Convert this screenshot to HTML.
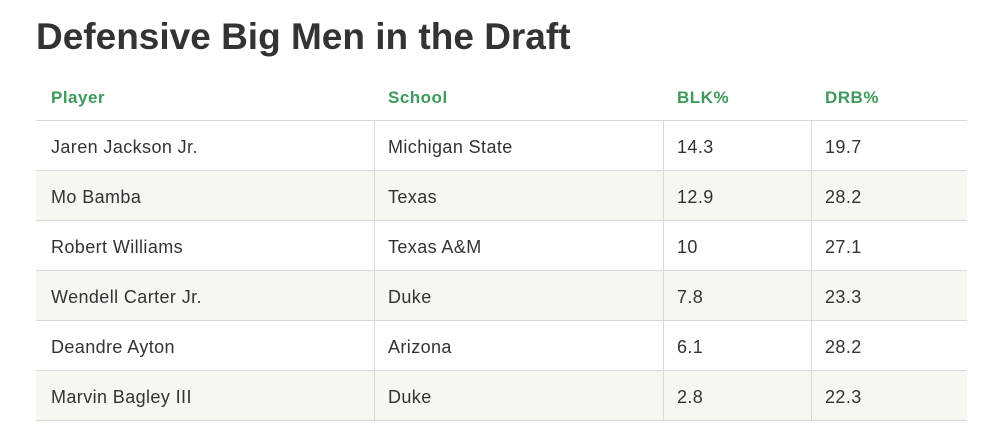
<!DOCTYPE html>
<html><head><style>
body{margin:0;width:1000px;height:431px;background:#fff;font-family:"Liberation Sans",sans-serif;position:relative;overflow:hidden}
h1{position:absolute;left:36px;top:16px;margin:0;font-size:37px;font-weight:bold;color:#333;letter-spacing:0px}
.h{position:absolute;top:88px;font-size:17px;font-weight:bold;color:#3f9a5b;letter-spacing:0.5px}
.row{position:absolute;left:36px;width:931px;height:49px;border-bottom:1px solid #d9d9d9}
.row.s{background:#f7f6f1}
.c{position:absolute;top:1px;height:49px;line-height:50px;font-size:18px;color:#333;letter-spacing:0.4px}
.v{position:absolute;top:121px;height:300px;width:1px;background:#d9d9d9}
.top{position:absolute;left:36px;top:120px;width:931px;height:1px;background:#d9d9d9}
</style></head><body>
<h1>Defensive Big Men in the Draft</h1>
<div class="h" style="left:51px">Player</div>
<div class="h" style="left:388px">School</div>
<div class="h" style="left:677px">BLK%</div>
<div class="h" style="left:825px">DRB%</div>
<div class="top"></div>
<div class="row" style="top:121px"><div class="c" style="left:15px">Jaren Jackson Jr.</div><div class="c" style="left:352px">Michigan State</div><div class="c" style="left:641px">14.3</div><div class="c" style="left:789px">19.7</div></div>
<div class="row s" style="top:171px"><div class="c" style="left:15px">Mo Bamba</div><div class="c" style="left:352px">Texas</div><div class="c" style="left:641px">12.9</div><div class="c" style="left:789px">28.2</div></div>
<div class="row" style="top:221px"><div class="c" style="left:15px">Robert Williams</div><div class="c" style="left:352px">Texas A&amp;M</div><div class="c" style="left:641px">10</div><div class="c" style="left:789px">27.1</div></div>
<div class="row s" style="top:271px"><div class="c" style="left:15px">Wendell Carter Jr.</div><div class="c" style="left:352px">Duke</div><div class="c" style="left:641px">7.8</div><div class="c" style="left:789px">23.3</div></div>
<div class="row" style="top:321px"><div class="c" style="left:15px">Deandre Ayton</div><div class="c" style="left:352px">Arizona</div><div class="c" style="left:641px">6.1</div><div class="c" style="left:789px">28.2</div></div>
<div class="row s" style="top:371px"><div class="c" style="left:15px">Marvin Bagley III</div><div class="c" style="left:352px">Duke</div><div class="c" style="left:641px">2.8</div><div class="c" style="left:789px">22.3</div></div>
<div class="v" style="left:374px"></div>
<div class="v" style="left:663px"></div>
<div class="v" style="left:811px"></div>
</body></html>
